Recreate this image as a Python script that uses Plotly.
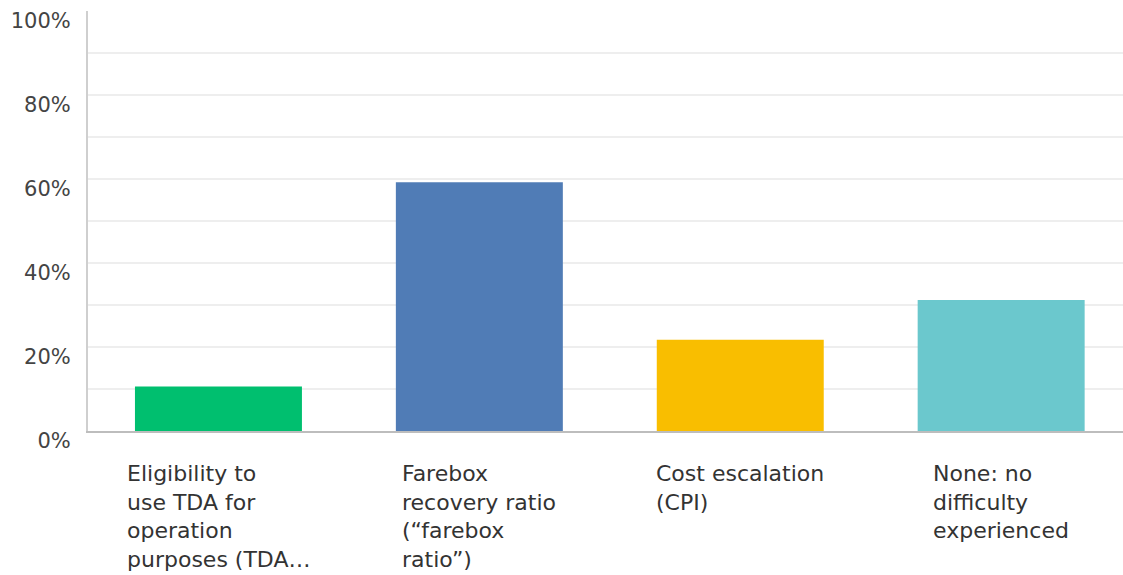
import plotly.graph_objects as go

categories = [
    "Eligibility to<br>use TDA for<br>operation<br>purposes (TDA…",
    "Farebox<br>recovery ratio<br>(“farebox<br>ratio”)",
    "Cost escalation<br>(CPI)",
    "None: no<br>difficulty<br>experienced",
]
values = [10.6, 59.2, 21.7, 31.2]
colors = ["#00BF6F", "#507CB6", "#F9BE00", "#6BC8CD"]
ytick_vals = [0, 20, 40, 60, 80, 100]
ytick_text = ["0%", "20%", "40%", "60%", "80%", "100%"]
grid_vals = [10, 20, 30, 40, 50, 60, 70, 80, 90]

x = list(range(len(categories)))

fig = go.Figure()
fig.add_trace(go.Bar(x=x, y=values, marker=dict(color=colors, line=dict(width=0)),
                     hoverinfo="skip"))

shapes = []
for g in grid_vals:
    shapes.append(dict(type="line", xref="x domain", yref="y", x0=0, x1=1, y0=g, y1=g,
                       line=dict(color="#E8E8E8", width=1.5), layer="below"))

annotations = []
for i, c in enumerate(categories):
    annotations.append(dict(x=i, xref="x", y=0, yref="paper", yanchor="top", xanchor="center",
                            align="left", text=c, showarrow=False, yshift=-28,
                            font=dict(family="DejaVu Sans", size=22, color="#333333")))

fig.update_layout(
    width=1123, height=575,
    margin=dict(l=88, r=0, t=11, b=144),
    paper_bgcolor="white", plot_bgcolor="white",
    bargap=0.36,
    showlegend=False,
    shapes=shapes,
    annotations=annotations,
    xaxis=dict(range=[-0.5, 3.467], showticklabels=False, showgrid=False, zeroline=False,
               showline=True, linecolor="#BDBDBD", linewidth=2, ticks=""),
    yaxis=dict(range=[0, 100], tickvals=ytick_vals, ticktext=ytick_text, showgrid=False,
               zeroline=False, showline=True, linecolor="#CFCFCF", linewidth=2, ticks="",
               ticklabelshift=10, ticklabelstandoff=11,
               tickfont=dict(family="DejaVu Sans", size=21, color="#444444")),
)

fig.write_html("out.html")
